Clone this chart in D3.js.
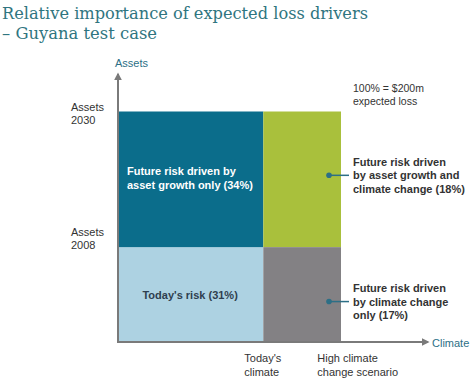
<!DOCTYPE html>
<html>
<head>
<meta charset="utf-8">
<script src="https://cdn.jsdelivr.net/npm/d3@7"></script>
<style>
  body { margin: 0; background: #fff; }
  svg { display: block; font-family: Arial, "Liberation Sans", sans-serif; }
</style>
</head>
<body>
<svg id="chart" width="476" height="382"></svg>
<script>
// --- data ---------------------------------------------------------------
const titleLines = ['Relative importance of expected loss drivers', '\u2013 Guyana test case'];
const climateScenarios = ["Today's climate", 'High climate change scenario'];
const assetYears = ['Assets 2008', 'Assets 2030'];
// asset index at each year (2008 = 1)
const assetIndex = [1, 2.43];
// share of expected loss per cell, %
const cells = [
  { climate: 0, asset: 0, value: 31, label: "Today's risk (31%)" },
  { climate: 0, asset: 1, value: 34, label: 'Future risk driven by|asset growth only (34%)' },
  { climate: 1, asset: 1, value: 18, label: 'Future risk driven|by asset growth and|climate change (18%)' },
  { climate: 1, asset: 0, value: 17, label: 'Future risk driven|by climate change|only (17%)' }
];
const totalNote = ['100% = $200m', 'expected loss'];

const colors = ['#add2e2', '#0b6d8b', '#a9c03c', '#838184'];
const textGrey = '#333';
const teal = '#2c6f86';

// --- layout -------------------------------------------------------------
const svg = d3.select('#chart');
const x0 = 119, x1 = 341, yBottom = 342, yTop = 111.5;

// column width follows the climate column's share of total loss
const colShare = climateScenarios.map((_, i) =>
  d3.sum(cells.filter(c => c.climate === i), c => c.value));
const colEdges = [0, colShare[0], colShare[0] + colShare[1]];
const x = d3.scaleLinear().domain([0, d3.sum(colShare)]).range([x0, x1]);
const y = d3.scaleLinear().domain([0, assetIndex[1]]).range([yBottom, yTop]);
const rowEdges = [0, assetIndex[0], assetIndex[1]];

// title
svg.append('g').selectAll('text').data(titleLines).join('text')
  .attr('x', 2).attr('y', (d, i) => 19 + i * 19.5)
  .attr('font-family', 'Georgia, "DejaVu Serif", serif')
  .attr('font-size', 17.5).attr('fill', '#2f7580')
  .attr('textLength', (d, i) => i === 0 ? 366 : 155)
  .attr('lengthAdjust', 'spacingAndGlyphs')
  .text(d => d);

// cells
svg.append('g').selectAll('rect').data(cells).join('rect')
  .attr('x', d => x(colEdges[d.climate]))
  .attr('width', d => x(colEdges[d.climate + 1]) - x(colEdges[d.climate]))
  .attr('y', d => y(rowEdges[d.asset + 1]))
  .attr('height', d => y(rowEdges[d.asset]) - y(rowEdges[d.asset + 1]))
  .attr('fill', (d, i) => colors[i]);

// in-cell labels
const inner = svg.append('g').attr('font-weight', 'bold').attr('font-size', 11);
inner.append('text')
  .attr('x', (x(colEdges[0]) + x(colEdges[1])) / 2 - 1)
  .attr('y', (y(0) + y(assetIndex[0])) / 2 + 4)
  .attr('text-anchor', 'middle').attr('fill', '#2f3f4f')
  .text(cells[0].label);
inner.append('text')
  .attr('fill', '#fff')
  .selectAll('tspan').data(cells[1].label.split('|')).join('tspan')
  .attr('x', x(0) + 8)
  .attr('y', (d, i) => y(assetIndex[1]) + 63 + i * 14)
  .text(d => d);

// callouts for the right column
cells.filter(c => c.climate === 1).forEach(c => {
  const cy = (y(rowEdges[c.asset]) + y(rowEdges[c.asset + 1])) / 2 + (c.asset ? -4 : 7);
  const dotX = x(colEdges[2]) - 12;
  const g = svg.append('g');
  g.append('line').attr('x1', dotX).attr('x2', x(colEdges[2]) + 8)
    .attr('y1', cy).attr('y2', cy).attr('stroke', teal).attr('stroke-width', 1.5);
  g.append('circle').attr('cx', dotX).attr('cy', cy).attr('r', 2.8).attr('fill', teal);
  const lines = c.label.split('|');
  g.append('text').attr('font-weight', 'bold').attr('font-size', 11).attr('fill', textGrey)
    .selectAll('tspan').data(lines).join('tspan')
    .attr('x', x(colEdges[2]) + 12)
    .attr('y', (d, i) => cy + 4 + (i - (lines.length - 1) / 2) * 13.5)
    .text(d => d);
});

// total note
svg.append('text').attr('font-size', 10.5).attr('fill', textGrey)
  .selectAll('tspan').data(totalNote).join('tspan')
  .attr('x', 353).attr('y', (d, i) => 92 + i * 13)
  .text(d => d);

// axes with arrows
svg.append('defs').append('marker')
  .attr('id', 'arrow').attr('viewBox', '0 0 10 10').attr('refX', 8).attr('refY', 5)
  .attr('markerWidth', 4).attr('markerHeight', 4).attr('orient', 'auto')
  .append('path').attr('d', 'M0,0L10,5L0,10Z').attr('fill', '#7a7a7a');
const axisX = x0 - 1;
svg.append('line').attr('x1', axisX).attr('x2', axisX).attr('y1', yBottom).attr('y2', 74)
  .attr('stroke', '#7a7a7a').attr('stroke-width', 2).attr('marker-end', 'url(#arrow)');
svg.append('line').attr('x1', axisX - 1).attr('x2', 428).attr('y1', yBottom).attr('y2', yBottom)
  .attr('stroke', '#7a7a7a').attr('stroke-width', 2).attr('marker-end', 'url(#arrow)');
svg.append('text').attr('x', 115).attr('y', 67).attr('font-size', 11).attr('fill', teal).text('Assets');
svg.append('text').attr('x', 432).attr('y', 347).attr('font-size', 11).attr('fill', teal).text('Climate');

// y tick labels (asset years)
assetYears.forEach((label, i) => {
  const parts = label.split(' ');
  svg.append('text').attr('font-size', 11).attr('fill', textGrey)
    .selectAll('tspan').data(parts).join('tspan')
    .attr('x', 71)
    .attr('y', (d, j) => y(assetIndex[i]) + (i === 0 ? -11 : -1) + j * 13)
    .text(d => d);
});

// x tick labels (climate scenarios)
const xLabels = [["Today's", 'climate'], ['High climate', 'change scenario']];
const xStarts = [x(colEdges[1]) - 19, x(colEdges[1]) + 54];
xLabels.forEach((lines, i) => {
  svg.append('text').attr('font-size', 11).attr('fill', textGrey)
    .selectAll('tspan').data(lines).join('tspan')
    .attr('x', xStarts[i]).attr('y', (d, j) => 362 + j * 13.5)
    .text(d => d);
});
</script>
</body>
</html>
